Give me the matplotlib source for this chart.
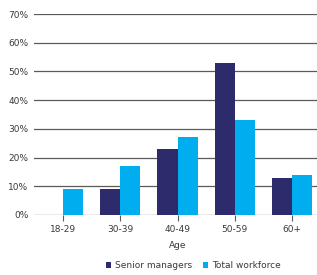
import matplotlib

matplotlib.use("Agg")
import matplotlib.pyplot as plt  # noqa: E402
import numpy as np  # noqa: E402

AGES = ["18-29", "30-39", "40-49", "50-59", "60+"]
SENIOR = [0, 9, 23, 53, 13]
TOTAL = [9, 17, 27, 33, 14]
Y_TICKS = [0, 10, 20, 30, 40, 50, 60, 70]

SENIOR_COLOR = "#2e2b6c"
TOTAL_COLOR = "#00adef"
TEXT_COLOR = "#3a3a3a"
GRID_COLOR = "#5a5a5a"

plt.rcParams["font.family"] = ["DejaVu Sans"]

fig = plt.figure(figsize=(3.17, 2.75), dpi=100)
ax = fig.add_axes([34 / 317, 60 / 275, 287 / 317, 201 / 275])

x = np.arange(len(AGES))
w = 0.35
ax.bar(x - w / 2, SENIOR, w, color=SENIOR_COLOR, label="Senior managers", zorder=3)
ax.bar(x + w / 2, TOTAL, w, color=TOTAL_COLOR, label="Total workforce", zorder=3)

ax.set_xlim(-0.5, 4.5)
ax.set_ylim(0, 70)
ax.set_yticks(Y_TICKS)
ax.set_yticklabels([f"{v}%" for v in Y_TICKS])
ax.set_xticks(x)
ax.set_xticklabels(AGES)
ax.yaxis.grid(True, color=GRID_COLOR, linewidth=0.9, zorder=0)
ax.set_axisbelow(True)
for side in ["top", "right", "left", "bottom"]:
    ax.spines[side].set_visible(False)
ax.tick_params(axis="y", length=0, pad=4, labelsize=6.5, labelcolor=TEXT_COLOR)
ax.tick_params(axis="x", length=4, width=0.8, color=GRID_COLOR, pad=3,
               labelsize=6.5, labelcolor=TEXT_COLOR)
ax.set_xlabel("Age", fontsize=6.5, color=TEXT_COLOR, labelpad=5)

fig.legend(loc="center", bbox_to_anchor=(193 / 317, 1 - 266 / 275), ncol=2,
           frameon=False, fontsize=6.5, handlelength=0.6, handleheight=0.6,
           handletextpad=0.4, columnspacing=1.2, labelcolor=TEXT_COLOR,
           borderaxespad=0, borderpad=0)

fig.savefig("out.png", dpi=100)
